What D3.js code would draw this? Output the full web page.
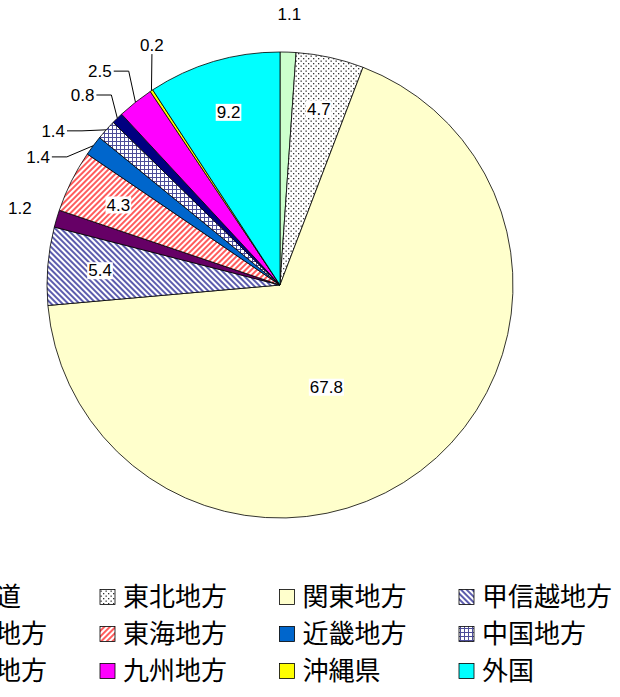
<!DOCTYPE html>
<html>
<head>
<meta charset="utf-8">
<script src="https://cdn.jsdelivr.net/npm/d3@7/dist/d3.min.js"></script>
<style>
  body { margin: 0; background: #fff; }
  svg { display: block; }
</style>
</head>
<body>
<svg id="chart" width="620" height="697"></svg>
<script>
// data (percent)
var regions = ["北海道","東北地方","関東地方","甲信越地方","北陸地方","東海地方","近畿地方","中国地方","四国地方","九州地方","沖縄県","外国"];
var shares = [1.1, 4.7, 67.8, 5.4, 1.2, 4.3, 1.4, 1.4, 0.8, 2.5, 0.2, 9.2];
var shareLabels = ["1.1","4.7","67.8","5.4","1.2","4.3","1.4","1.4","0.8","2.5","0.2","9.2"];

// styling
var sliceFill = ["#ccffcc","url(#dots)","#ffffcc","url(#hatchBlue)","#660066","url(#hatchRed)",
                 "#0066cc","url(#grid)","#000080","#ff00ff","#ffff00","#00ffff"];

var svg = d3.select("#chart");
var cx = 280, cy = 285, R = 233;

// patterns
var defs = svg.append("defs");
var p = defs.append("pattern").attr("id", "dots").attr("patternUnits", "userSpaceOnUse")
  .attr("width", 5).attr("height", 5);
p.append("rect").attr("width", 5).attr("height", 5).attr("fill", "#fff");
p.append("rect").attr("x", 0.5).attr("y", 0.5).attr("width", 1.3).attr("height", 1.3).attr("fill", "#333");
p.append("rect").attr("x", 3).attr("y", 3).attr("width", 1.3).attr("height", 1.3).attr("fill", "#333");

function stripes(id, color, angle) {
  var s = defs.append("pattern").attr("id", id).attr("patternUnits", "userSpaceOnUse")
    .attr("width", 4).attr("height", 10).attr("patternTransform", "rotate(" + angle + ")");
  s.append("rect").attr("width", 4).attr("height", 10).attr("fill", "#fff");
  s.append("line").attr("x1", 1).attr("x2", 1).attr("y1", 0).attr("y2", 10)
    .attr("stroke", color).attr("stroke-width", 1.6);
}
stripes("hatchBlue", "#333399", -45);
stripes("hatchRed", "#ff3333", 45);

var g4 = defs.append("pattern").attr("id", "grid").attr("patternUnits", "userSpaceOnUse")
  .attr("width", 4).attr("height", 4);
g4.append("rect").attr("width", 4).attr("height", 4).attr("fill", "#fff");
g4.append("path").attr("d", "M0,0.5H4M0.5,0V4").attr("stroke", "#4d4d99").attr("stroke-width", 1);

// pie
var pie = d3.pie().sort(null).value(function(d) { return d; });
var arcs = pie(shares);
var arc = d3.arc().innerRadius(0).outerRadius(R);

var g = svg.append("g").attr("transform", "translate(" + cx + "," + cy + ")");
g.selectAll("path.slice").data(arcs).enter()
  .append("path")
  .attr("class", "slice")
  .attr("d", arc)
  .attr("fill", function(d, i) { return sliceFill[i]; })
  .attr("stroke", "#000")
  .attr("stroke-width", 0.8);

// label placement: [angle in degrees, radius factor]; a few were dragged in the original
var labelSpot = { 2: [155.5, 0.48], 6: [297.9, 1.175], 7: [304.2, 1.177], 8: [313.9, 1.176], 9: [319.9, 1.2], 10: [331.9, 1.167] };
var leader = { 6: 1, 7: 1, 8: 1, 9: 1, 10: 1 };

function midDeg(d) { return (d.startAngle + d.endAngle) / 2 * 180 / Math.PI; }
function polar(deg, r) {
  var a = deg * Math.PI / 180;
  return [r * Math.sin(a), -r * Math.cos(a)];
}

var lab = g.append("g");
arcs.forEach(function(d, i) {
  var inside = d.value >= 3;
  var spot = labelSpot[i] || [midDeg(d), inside ? 0.775 : 1.165];
  var pt = polar(spot[0], spot[1] * R);
  var bg = lab.append("rect").attr("fill", "#fff");
  var t = lab.append("text")
    .attr("x", pt[0]).attr("y", pt[1]).attr("dy", "0.35em")
    .attr("text-anchor", "middle")
    .style("font-family", "'Liberation Sans', Arial, sans-serif")
    .style("font-size", "17px")
    .attr("fill", "#000")
    .text(shareLabels[i]);
  var b = t.node().getBBox();
  if (inside) {
    bg.attr("x", b.x - 1).attr("y", b.y + 1).attr("width", b.width + 2).attr("height", b.height - 2);
  } else {
    bg.remove();
  }
  if (leader[i]) {
    var edge = polar(midDeg(d), R);
    var line;
    if (edge[1] > b.y + b.height && edge[0] > b.x - 5 && edge[0] < b.x + b.width + 5) {
      line = [[b.x + b.width / 2, b.y + b.height - 1], edge];
    } else {
      var sx = b.x + b.width + 2, sy = pt[1];
      line = [[sx, sy], [sx + 15, sy], edge];
    }
    lab.append("path")
      .attr("d", d3.line()(line))
      .attr("fill", "none")
      .attr("stroke", "#000")
      .attr("stroke-width", 1);
  }
});

// legend, 4 columns x 3 rows, first column runs off the left edge as in the original
var legend = svg.append("g");
var colX = [-80, 100, 279.5, 459];
var rowY = [597, 634, 671];
regions.forEach(function(name, i) {
  var x = colX[i % 4], y = rowY[Math.floor(i / 4)];
  legend.append("rect")
    .attr("x", x).attr("y", y - 7.5).attr("width", 15).attr("height", 15)
    .attr("fill", sliceFill[i]).attr("stroke", "#000").attr("stroke-width", 0.8);
  legend.append("text")
    .attr("x", x + 23).attr("y", y).attr("dy", "0.36em")
    .style("font-family", "'Noto Sans CJK JP', sans-serif")
    .style("font-size", "26px")
    .attr("fill", "#000")
    .text(name);
});
</script>
</body>
</html>
